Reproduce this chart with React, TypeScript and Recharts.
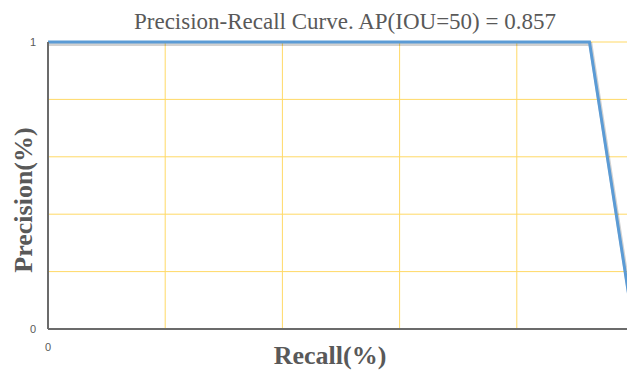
import { CartesianGrid, Line, LineChart, XAxis, YAxis } from 'recharts'

const recall = [0, 0.924, 1.0]
const precision = [1, 1, 0.0]
// the x tick at 1 falls just past the window's right edge, so only 0 is shown
const xTicks = [0]
const yTicks = [0, 1]
const gridX = [0.2, 0.4, 0.6, 0.8]
const gridY = [0.2, 0.4, 0.6, 0.8, 1]

const data = recall.map((r, i) => ({ recall: r, precision: precision[i] }))

const serif = '"Liberation Serif", "Times New Roman", serif'
const sans = '"Liberation Sans", Arial, sans-serif'

export default function App() {
  return (
    <div style={{ position: 'fixed', left: 0, top: 0, width: 627, height: 371, overflow: 'hidden', background: '#fff' }}>
      <LineChart
        width={640}
        height={371}
        data={data}
        margin={{ top: 42, right: 6, bottom: 12, left: 0 }}
      >
        <text x={345} y={29} textAnchor="middle" fontFamily={serif} fontSize={23} fill="#595959">
          Precision-Recall Curve. AP(IOU=50) = 0.857
        </text>
        <text x={330} y={364} textAnchor="middle" fontFamily={serif} fontWeight="bold" fontSize={26} fill="#595959">
          Recall(%)
        </text>
        <text
          x={0}
          y={0}
          transform="translate(32, 200) rotate(-90)"
          textAnchor="middle"
          fontFamily={serif}
          fontWeight="bold"
          fontSize={26}
          fill="#595959"
        >
          Precision(%)
        </text>
        <CartesianGrid
          stroke="#ffd966"
          strokeWidth={1}
          verticalValues={gridX}
          horizontalValues={gridY}
        />
        <XAxis
          type="number"
          dataKey="recall"
          domain={[0, 1]}
          ticks={xTicks}
          height={30}
          tickLine={false}
          axisLine={{ stroke: '#6b6b6b', strokeWidth: 2 }}
          tick={{ fontSize: 11, fill: '#595959', fontFamily: sans, dy: 6 }}
        />
        <YAxis
          type="number"
          domain={[0, 1]}
          ticks={yTicks}
          width={48}
          tickLine={false}
          axisLine={{ stroke: '#6b6b6b', strokeWidth: 2 }}
          tick={{ fontSize: 11, fill: '#595959', fontFamily: sans, dx: -4 }}
        />
        <Line
          type="linear"
          dataKey="precision"
          stroke="rgba(0,0,0,0.18)"
          strokeWidth={4}
          dot={false}
          activeDot={false}
          isAnimationActive={false}
          style={{ transform: 'translate(1px, 2px)' }}
        />
        <Line
          type="linear"
          dataKey="precision"
          stroke="#5b9bd5"
          strokeWidth={3}
          dot={false}
          isAnimationActive={false}
        />
      </LineChart>
    </div>
  )
}
